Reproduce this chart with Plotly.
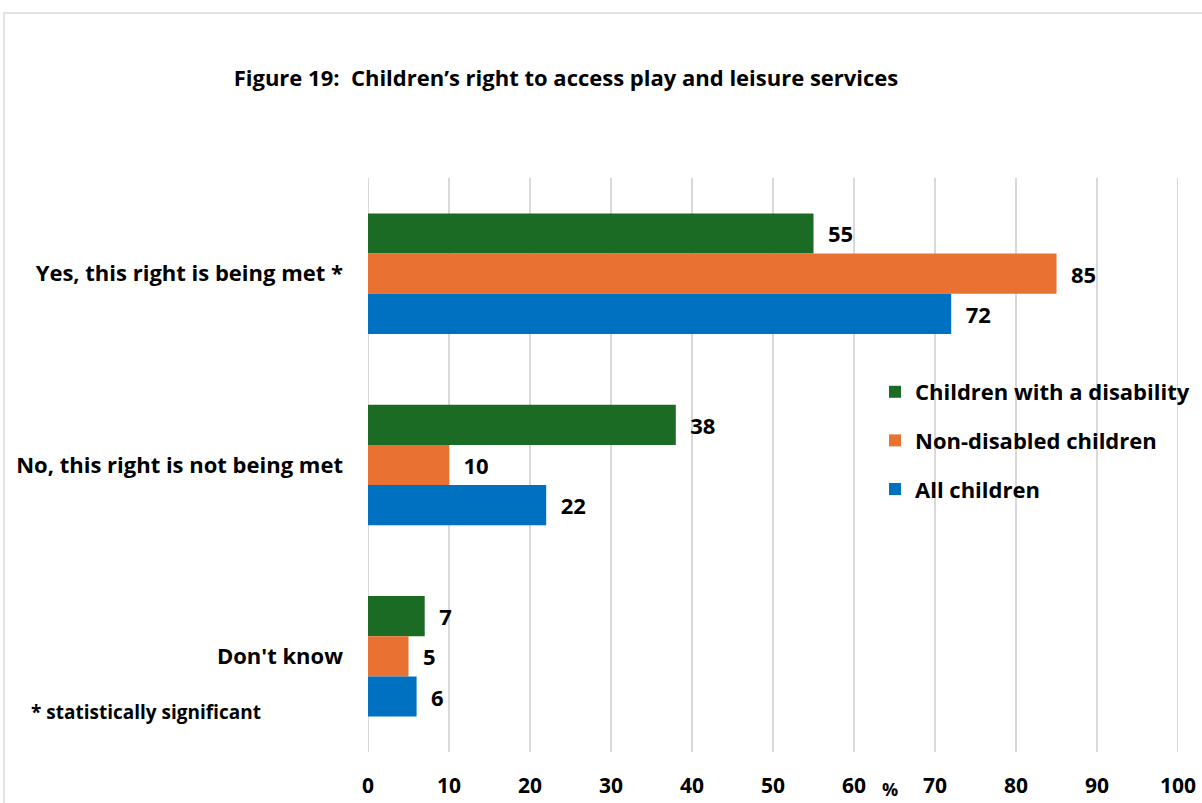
import plotly.graph_objects as go

categories = ["Yes, this right is being met *", "No, this right is not being met", "Don't know"]
series_names = ["Children with a disability", "Non-disabled children", "All children"]
disabled = [55, 38, 7]
non_disabled = [85, 10, 5]
all_children = [72, 22, 6]
x_ticks = [0, 10, 20, 30, 40, 50, 60, 70, 80, 90, 100]
colors = ["#1c6b25", "#e97132", "#0070c0"]

FONT = "Open Sans"
fig = go.Figure()
for i, (name, vals) in enumerate(zip(series_names, [disabled, non_disabled, all_children])):
    fig.add_trace(go.Bar(
        y=categories, x=vals, name=f"<b>{name}</b>", orientation="h",
        marker=dict(color=colors[i], line=dict(width=0)),
        text=[f"  {v}" for v in vals], texttemplate="<b>%{text}</b>", textposition="outside",
        textfont=dict(family=FONT, size=22, color="#000000"),
        cliponaxis=False, legendgroup=name,
    ))

L, R, T, B = 368, 24, 178, 51
W, H = 1202, 803
pw = W - L - R
ph = H - T - B

def px(x):
    return (x - L) / pw

def py(y):
    return (H - B - y) / ph

grid = "#d9d9d9"
fig.update_layout(
    width=W, height=H,
    margin=dict(l=L, r=R, t=T, b=B, autoexpand=False),
    paper_bgcolor="white", plot_bgcolor="white",
    barmode="group", bargap=0.37, bargroupgap=0,
    font=dict(family=FONT, size=20, color="#000000"),
    title=dict(text="<b>Figure 19:  Children\u2019s right to access play and leisure services</b>",
               x=566 / W, xanchor="center", y=1 - 78 / H, yanchor="middle",
               font=dict(family=FONT, size=22, color="#000000")),
    legend=dict(x=px(875), xanchor="left", y=py(371), yanchor="top",
                font=dict(family=FONT, size=22, color="#000000"),
                tracegroupgap=17, bgcolor="rgba(0,0,0,0)"),
    xaxis=dict(range=[0, 100], tickvals=x_ticks, ticktext=[f"<b>{v}</b>" for v in x_ticks],
               showgrid=True, gridcolor=grid, gridwidth=2,
               zeroline=False, showline=False, ticklabelstandoff=19, automargin=False,
               tickfont=dict(family=FONT, size=21, color="#000000")),
    yaxis=dict(autorange="reversed", showgrid=False, showline=False, ticks="", automargin=False,
               tickvals=categories, ticktext=[f"<b>{c}</b>" for c in categories],
               ticklabelstandoff=24, tickfont=dict(family=FONT, size=22, color="#000000")),
    shapes=[
        dict(type="rect", xref="paper", yref="paper",
             x0=px(4), x1=px(1240), y0=py(840), y1=py(13),
             line=dict(color=grid, width=1.5), fillcolor="rgba(0,0,0,0)", layer="below"),
        dict(type="line", xref="x", yref="paper", x0=x_ticks[0], x1=x_ticks[0], y0=0, y1=1,
             line=dict(color=grid, width=2), layer="below"),
        dict(type="line", xref="x", yref="paper", x0=x_ticks[-1], x1=x_ticks[-1], y0=0, y1=1,
             line=dict(color=grid, width=2), layer="below"),
    ],
    annotations=[
        dict(text="<b>%</b>", x=64.5, xref="x", y=py(789), yref="paper", yanchor="middle",
             showarrow=False, font=dict(family=FONT, size=18, color="#000000")),
        dict(text="<b>* statistically significant</b>", x=px(29), xref="paper", xanchor="left",
             y=py(712), yref="paper", yanchor="middle", showarrow=False,
             font=dict(family=FONT, size=19, color="#000000")),
    ],
)

fig.write_html("out.html", config={"displayModeBar": False},
               post_script="document.body.style.margin='0';document.body.style.overflow='hidden';")
